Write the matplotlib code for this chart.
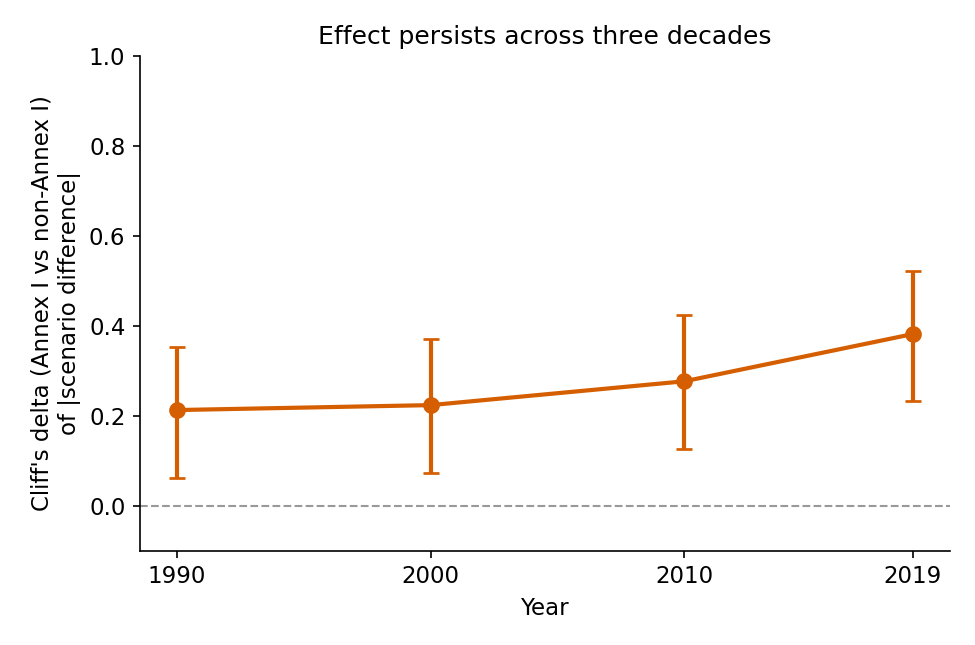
import numpy as np
import matplotlib.pyplot as plt

years = [1990, 2000, 2010, 2019]
delta = [0.213, 0.224, 0.277, 0.382]
ci_low = [0.061, 0.074, 0.127, 0.234]
ci_high = [0.354, 0.372, 0.425, 0.522]


def main():
    d = np.array(delta)
    yerr = [d - np.array(ci_low), np.array(ci_high) - d]

    fig = plt.figure(figsize=(6.5, 4.3), dpi=150)
    ax = fig.add_axes([0.1436, 0.146, 0.8304, 0.767])

    ax.axhline(0, color='#999999', linestyle='--', linewidth=1)
    ax.errorbar(years, d, yerr=yerr, color='#d55e00', marker='o', markersize=7,
                linewidth=2, elinewidth=2, capsize=4, capthick=1.3)

    ax.set_ylim(-0.1, 1.0)
    ax.set_xticks(years)
    ax.set_title('Effect persists across three decades', fontsize=12)
    ax.set_xlabel('Year', fontsize=11)
    ax.set_ylabel("Cliff's delta (Annex I vs non-Annex I)\nof |scenario difference|", fontsize=11)
    ax.tick_params(labelsize=11)
    ax.spines['top'].set_visible(False)
    ax.spines['right'].set_visible(False)

    fig.savefig('out.png', dpi=150)


if __name__ == "__main__":
    main()
